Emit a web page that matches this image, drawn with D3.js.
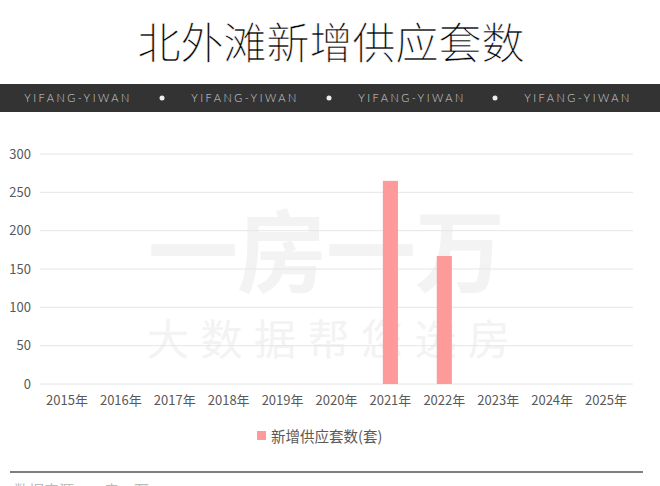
<!DOCTYPE html>
<html><head><meta charset="utf-8">
<script src="https://cdn.jsdelivr.net/npm/d3@7/dist/d3.min.js"></script>
<style>html,body{margin:0;padding:0;background:#fff;}svg{display:block;}</style>
</head><body><div id="chart"></div>
<script>
const title = "北外滩新增供应套数";
const categories = ["2015年","2016年","2017年","2018年","2019年","2020年","2021年","2022年","2023年","2024年","2025年"];
const values = [0,0,0,0,0,0,265,167,0,0,0];
const yTicks = [0,50,100,150,200,250,300];
const seriesName = "新增供应套数(套)";
const bannerText = "YIFANG-YIWAN";
const sourceText = "数据来源：一房一万";

const W = 660, H = 486;
const font = "'Noto Sans CJK SC','Noto Sans',sans-serif";
const svg = d3.select("#chart").append("svg").attr("width", W).attr("height", H);

svg.append("text").attr("x", 331).attr("y", 59).attr("text-anchor","middle")
  .attr("font-family", font).attr("font-weight", 300).attr("font-size", 43)
  .attr("fill", "#000").attr("stroke", "#fff").attr("stroke-width", 0.5)
  .text(title);

svg.append("rect").attr("x",0).attr("y",84).attr("width",W).attr("height",28).attr("fill","#333");
const bannerCenters = [78, 245, 412, 578];
bannerCenters.forEach(c => {
  svg.append("text").attr("x", c).attr("y", 102).attr("text-anchor","middle")
    .attr("font-family","Lato,'Open Sans',sans-serif").attr("font-weight",300).attr("font-size",11)
    .attr("letter-spacing", 2.5).attr("fill","#d4d4d4").text(bannerText);
});
[162, 329, 495].forEach(c => {
  svg.append("circle").attr("cx", c).attr("cy", 98).attr("r", 2.5).attr("fill", "#eee");
});

// watermark
const wm1 = ["一","房","一","万"];
wm1.forEach((ch,i) => {
  svg.append("text").attr("x", 193 + i*89).attr("y", 285).attr("text-anchor","middle")
    .attr("font-family", font).attr("font-weight", 700).attr("font-size", 90)
    .attr("fill", "#f3f3f3").text(ch);
});
const wm2 = ["大","数","据","帮","您","选","房"];
wm2.forEach((ch,i) => {
  svg.append("text").attr("x", 168 + i*53.5).attr("y", 355).attr("text-anchor","middle")
    .attr("font-family", font).attr("font-size", 42)
    .attr("fill", "#f3f3f3").text(ch);
});

const x = d3.scaleBand().domain(categories).range([40, 633]).paddingInner(0.72).paddingOuter(0.36);
const y = d3.scaleLinear().domain([0, 300]).range([384, 154]);

const grid = svg.append("g");
grid.selectAll("line").data(yTicks).join("line")
  .attr("x1", 40).attr("x2", 633).attr("y1", d => y(d)).attr("y2", d => y(d))
  .attr("stroke", "#e6e6e6").attr("stroke-width", 1);

const yAxis = svg.append("g").attr("transform","translate(40,0)")
  .call(d3.axisLeft(y).tickValues(yTicks).tickSize(0).tickPadding(9));
yAxis.select(".domain").remove();
yAxis.selectAll("text").attr("font-family", font).attr("font-size", 13).attr("fill", "#595959");

const xAxis = svg.append("g").attr("transform","translate(0,384)")
  .call(d3.axisBottom(x).tickSize(0).tickPadding(12));
xAxis.select(".domain").remove();
xAxis.selectAll("text").attr("font-family", font).attr("font-size", 13).attr("fill", "#595959");

svg.append("g").selectAll("rect").data(categories.map((c,i)=>({c, v: values[i]})).filter(d => d.v > 0)).join("rect")
  .attr("x", d => x(d.c)).attr("width", x.bandwidth())
  .attr("y", d => y(d.v)).attr("height", d => y(0) - y(d.v))
  .attr("fill", "#ff9a9a");

// legend
svg.append("rect").attr("x", 257).attr("y", 431).attr("width", 9).attr("height", 9).attr("fill", "#ff9a9a");
svg.append("text").attr("x", 271).attr("y", 442).attr("font-family", font).attr("font-size", 14.5)
  .attr("fill", "#595959").text(seriesName);

svg.append("line").attr("x1", 10).attr("x2", 643).attr("y1", 472).attr("y2", 472)
  .attr("stroke", "#555").attr("stroke-width", 1.3);
svg.append("text").attr("x", 14).attr("y", 496).attr("font-family", font).attr("font-size", 15)
  .attr("fill", "#bbb").text(sourceText);
</script></body></html>
